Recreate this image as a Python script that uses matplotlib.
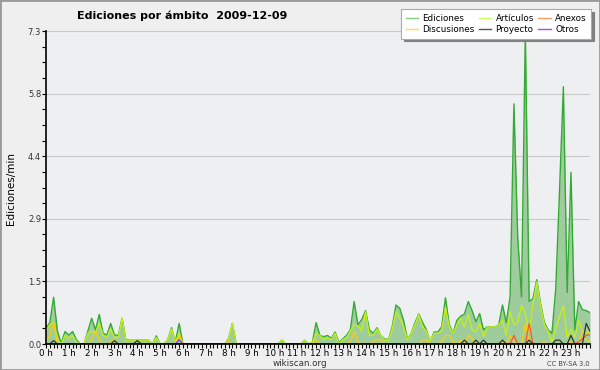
import numpy as np
import matplotlib.pyplot as plt
from matplotlib.lines import Line2D
from matplotlib.patches import Rectangle

# one value every 10 minutes (6 per hour), 0 h .. 23h50
horas = ["%d h" % h for h in range(24)]
ediciones = [0.36, 0.5, 1.09, 0.3, 0.02, 0.29, 0.21, 0.29, 0.1, 0, 0, 0.3, 0.6, 0.33, 0.69, 0.25, 0.21, 0.48, 0.21, 0.2, 0.6, 0.1, 0.09, 0.09,
             0.09, 0.09, 0.09, 0.09, 0, 0.19, 0, 0, 0.1, 0.38, 0.05, 0.48, 0, 0, 0, 0, 0, 0, 0, 0, 0, 0, 0, 0,
             0.12, 0.48, 0, 0, 0, 0, 0, 0, 0, 0, 0, 0, 0, 0, 0.09, 0, 0, 0, 0, 0, 0.09, 0, 0.03, 0.5,
             0.2, 0.17, 0.2, 0.13, 0.28, 0.03, 0.12, 0.2, 0.33, 0.99, 0.45, 0.57, 0.78, 0.33, 0.25, 0.38, 0.2, 0.12, 0.1, 0.4, 0.91, 0.83, 0.55, 0.12,
             0.25, 0.5, 0.7, 0.5, 0.33, 0.05, 0.28, 0.28, 0.4, 1.08, 0.45, 0.25, 0.55, 0.65, 0.7, 0.99, 0.78, 0.52, 0.71, 0.33, 0.4, 0.4, 0.4, 0.45,
             0.91, 0.5, 1.1, 5.6, 2.5, 1.1, 7.3, 0.99, 1.06, 1.5, 0.95, 0.5, 0.33, 0.25, 1.3, 3.6, 6.0, 1.2, 4.0, 0.33, 0.99, 0.8, 0.78, 0.73]
articulos = [0.3, 0.45, 0.5, 0.1, 0, 0.2, 0.12, 0.2, 0.05, 0, 0, 0.25, 0.3, 0.25, 0.48, 0.2, 0.15, 0.35, 0.15, 0.15, 0.6, 0.08, 0.09, 0.09,
             0.09, 0.09, 0.09, 0.09, 0, 0.15, 0, 0, 0.1, 0.35, 0.05, 0.25, 0, 0, 0, 0, 0, 0, 0, 0, 0, 0, 0, 0,
             0.1, 0.48, 0, 0, 0, 0, 0, 0, 0, 0, 0, 0, 0, 0, 0.09, 0, 0, 0, 0, 0, 0.09, 0, 0.03, 0.25,
             0.2, 0.1, 0.15, 0.1, 0.25, 0, 0.1, 0.15, 0.3, 0.45, 0.42, 0.3, 0.75, 0.2, 0.2, 0.35, 0.2, 0.1, 0.08, 0.35, 0.75, 0.6, 0.4, 0.1,
             0.25, 0.45, 0.68, 0.4, 0.3, 0.05, 0.25, 0.25, 0.3, 0.85, 0.4, 0.25, 0.44, 0.6, 0.4, 0.68, 0.33, 0.29, 0.48, 0.17, 0.39, 0.4, 0.4, 0.45,
             0.55, 0.2, 0.75, 0.45, 0.5, 0.9, 0.7, 0.3, 0.9, 1.45, 0.9, 0.45, 0.3, 0.05, 0.35, 0.65, 0.9, 0.15, 0.35, 0.15, 0.55, 0.3, 0.28, 0.25]
discusiones = [0.05, 0.2, 0.5, 0, 0, 0, 0, 0, 0, 0, 0, 0, 0.1, 0.3, 0.1, 0, 0, 0.05, 0.1, 0, 0, 0, 0, 0,
               0, 0, 0, 0, 0, 0, 0, 0, 0, 0, 0, 0.2, 0, 0, 0, 0, 0, 0, 0, 0, 0, 0, 0, 0,
               0.08, 0, 0, 0, 0, 0, 0, 0, 0, 0, 0, 0, 0, 0, 0, 0, 0, 0, 0, 0, 0, 0, 0, 0.1,
               0, 0, 0, 0, 0, 0, 0, 0, 0.05, 0.29, 0.05, 0, 0, 0, 0.05, 0.1, 0.1, 0, 0, 0, 0, 0, 0, 0,
               0, 0, 0, 0.1, 0.1, 0, 0, 0, 0.05, 0.2, 0.2, 0.05, 0, 0.08, 0, 0.21, 0.12, 0, 0, 0, 0, 0, 0, 0,
               0.05, 0, 0.2, 0.05, 0, 0, 0.48, 0.05, 0, 0, 0, 0.05, 0, 0, 0, 0, 0, 0, 0.05, 0, 0, 0.33, 0.1, 0.05]
anexos = [0, 0, 0, 0, 0, 0, 0, 0, 0, 0, 0, 0, 0, 0, 0, 0, 0, 0, 0, 0, 0, 0, 0, 0,
          0, 0, 0, 0, 0, 0, 0, 0, 0, 0, 0, 0, 0, 0, 0, 0, 0, 0, 0, 0, 0, 0, 0, 0,
          0, 0, 0, 0, 0, 0, 0, 0, 0, 0, 0, 0, 0, 0, 0, 0, 0, 0, 0, 0, 0, 0, 0, 0,
          0, 0, 0, 0, 0, 0, 0, 0, 0, 0, 0, 0, 0, 0, 0, 0, 0, 0, 0, 0, 0, 0, 0, 0,
          0, 0, 0, 0, 0, 0, 0, 0, 0, 0, 0, 0, 0, 0, 0, 0, 0, 0, 0, 0, 0, 0, 0, 0,
          0, 0, 0, 0.2, 0, 0, 0, 0.48, 0, 0, 0, 0, 0, 0, 0, 0, 0, 0, 0, 0, 0.05, 0.12, 0.2, 0.22]
proyecto = [0, 0, 0.08, 0, 0, 0, 0, 0, 0, 0, 0, 0, 0, 0, 0, 0, 0, 0, 0.08, 0, 0, 0, 0, 0,
            0.08, 0, 0, 0, 0, 0, 0, 0, 0, 0, 0, 0, 0, 0, 0, 0, 0, 0, 0, 0, 0, 0, 0, 0,
            0, 0, 0, 0, 0, 0, 0, 0, 0, 0, 0, 0, 0, 0, 0, 0, 0, 0, 0, 0, 0, 0, 0, 0,
            0, 0, 0, 0, 0, 0, 0, 0, 0, 0, 0, 0, 0, 0, 0, 0, 0, 0, 0, 0, 0, 0, 0, 0,
            0, 0, 0, 0, 0, 0, 0, 0, 0, 0, 0, 0, 0, 0, 0.09, 0, 0, 0.09, 0, 0.09, 0, 0, 0, 0,
            0.09, 0, 0, 0, 0, 0, 0, 0.09, 0, 0, 0, 0, 0, 0, 0.09, 0.09, 0, 0, 0.2, 0, 0, 0, 0.48, 0.3]
otros = [0, 0, 0, 0, 0, 0, 0, 0, 0, 0, 0, 0, 0, 0, 0, 0, 0, 0, 0, 0, 0, 0, 0, 0,
         0, 0, 0, 0, 0, 0, 0, 0, 0, 0, 0, 0.1, 0, 0, 0, 0, 0, 0, 0, 0, 0, 0, 0, 0,
         0, 0, 0, 0, 0, 0, 0, 0, 0, 0, 0, 0, 0, 0, 0, 0, 0, 0, 0, 0, 0, 0, 0, 0,
         0, 0, 0, 0, 0, 0, 0, 0, 0, 0, 0, 0, 0, 0, 0, 0, 0, 0, 0, 0, 0, 0, 0, 0,
         0, 0, 0, 0, 0, 0, 0, 0, 0, 0, 0, 0, 0, 0, 0, 0, 0, 0, 0, 0, 0, 0, 0, 0,
         0, 0, 0, 0, 0, 0, 0, 0, 0, 0, 0, 0, 0, 0, 0, 0, 0, 0, 0, 0, 0, 0, 0, 0]

x = np.arange(len(ediciones)) / 6.0

fig = plt.figure(figsize=(6, 3.7), dpi=100, facecolor="#efefef")
ax = fig.add_axes([46/600, 26/370, 544/600, 313/370])
ax.set_facecolor("#eeeff1")

ax.fill_between(x, ediciones, color="#9fcc9c", lw=0, zorder=1)
ax.plot(x, ediciones, color="#33aa33", lw=1.0, zorder=2)
ax.plot(x, articulos, color="#c4ee1a", lw=1.0, zorder=2)
ax.plot(x, discusiones, color="#ffcc00", lw=0.9, zorder=2)
ax.plot(x, anexos, color="#ff5522", lw=0.9, zorder=2)
ax.plot(x, proyecto, color="#333333", lw=0.9, zorder=2)
ax.plot(x, otros, color="#8833ff", lw=0.9, zorder=2)

ax.set_xlim(0, x[-1])
ax.set_ylim(0, 7.3)
yt = np.linspace(0, 7.3, 6)
ax.set_yticks(yt)
ax.set_yticklabels(["%.1f" % v for v in yt])
ax.set_yticks(np.linspace(0, 7.3, 21), minor=True)
ax.set_xticks(range(24))
ax.set_xticklabels(horas)
ax.set_xticks(x, minor=True)
ax.grid(axis="y", color="#c8c8c8", lw=0.8)
ax.set_axisbelow(True)
for s in ["top", "right"]:
    ax.spines[s].set_visible(False)
for s in ["left", "bottom"]:
    ax.spines[s].set_linewidth(1.2)
    ax.spines[s].set_zorder(3)
ax.tick_params(which="both", labelsize=6.3, length=3, width=0.8, pad=0.5, colors="black")
ax.tick_params(axis="y", labelcolor="#333333", labelsize=6)

fig.text(0.303, 0.958, "Ediciones por ámbito  2009-12-09", fontsize=8, fontweight="bold",
         ha="center", va="center")
fig.text(0.018, 0.49, "Ediciones/min", fontsize=7.5, rotation=90, ha="center", va="center")
fig.text(0.5, 0.017, "wikiscan.org", fontsize=6.3, ha="center", va="center", color="#333333")
fig.text(0.983, 0.017, "CC BY-SA 3.0", fontsize=4.8, ha="right", va="center", color="#444444")

handles = [Line2D([], [], color="#88cc88", lw=1), Line2D([], [], color="#ffdd44", lw=1),
           Line2D([], [], color="#ccff66", lw=1), Line2D([], [], color="#555555", lw=1),
           Line2D([], [], color="#ff9966", lw=1), Line2D([], [], color="#9955ee", lw=1)]
labels = ["Ediciones", "Discusiones", "Artículos", "Proyecto", "Anexos", "Otros"]
leg = fig.legend(handles, labels, ncol=3, loc="upper right", bbox_to_anchor=(0.985, 0.975),
                 fontsize=6.3, frameon=True, fancybox=False, shadow={"color": "#808080", "alpha": 1},
                 edgecolor="#aaaaaa", handlelength=1.4, handletextpad=0.5, columnspacing=0.5,
                 labelspacing=0.3, borderpad=0.5, borderaxespad=0)
leg.get_frame().set_linewidth(0.8)

fig.patches.append(Rectangle((0, 0), 1, 1, transform=fig.transFigure, fill=False,
                             ec="#999999", lw=2))

fig.savefig("out.png", dpi=100, facecolor=fig.get_facecolor())
